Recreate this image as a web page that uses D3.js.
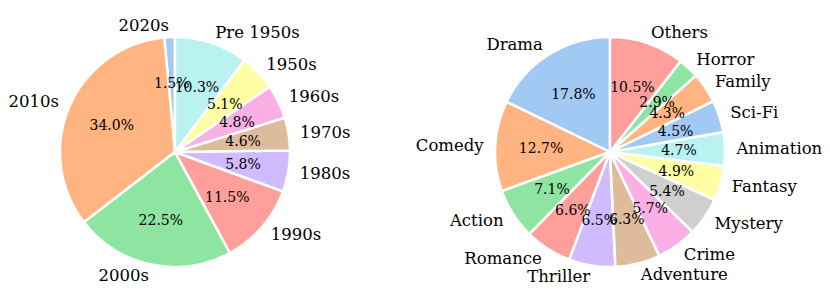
<!DOCTYPE html>
<meta charset="utf-8">
<head>
    <title>pies</title>
    <script src="https://d3js.org/d3.v7.min.js"></script>
    <style>
        body { margin: 0; background: #ffffff; }
        text { font-family: "DejaVu Serif", serif; fill: #000; }
    </style>
</head>
<body>
<svg id="chart" width="830" height="306"></svg>
<script>
// decades (left pie), order = matplotlib order, counterclockwise from top
var decades = ["2020s", "2010s", "2000s", "1990s", "1980s", "1970s", "1960s", "1950s", "Pre 1950s"]
var decadeShare = [1.5, 34.0, 22.5, 11.5, 5.8, 4.6, 4.8, 5.1, 10.3]
var decadeColors = ["#a1c9f4", "#ffb482", "#8de5a1", "#ff9f9b", "#d0bbff", "#debb9b", "#fab0e4", "#fffea3", "#b9f2f0"]

// genres (right pie)
var genres = ["Drama", "Comedy", "Action", "Romance", "Thriller", "Adventure", "Crime",
              "Mystery", "Fantasy", "Animation", "Sci-Fi", "Family", "Horror", "Others"]
var genreShare = [17.8, 12.7, 7.1, 6.6, 6.5, 6.3, 5.7, 5.4, 4.9, 4.7, 4.5, 4.3, 2.9, 10.5]
var genreColors = ["#a1c9f4", "#ffb482", "#8de5a1", "#ff9f9b", "#d0bbff", "#debb9b", "#fab0e4",
                   "#cfcfcf", "#fffea3", "#b9f2f0", "#a1c9f4", "#ffb482", "#8de5a1", "#ff9f9b"]

var svg = d3.select("#chart")
var radius = 115

function drawPie(cx, cy, labels, values, colors) {
    var rows = labels.map(function(l, i) { return {label: l, value: values[i], color: colors[i]} })

    // counterclockwise starting at 12 o'clock, like matplotlib startangle=90
    var pie = d3.pie()
        .sort(null)
        .value(function(d) { return d.value })
        .startAngle(0)
        .endAngle(-2 * Math.PI)

    var arc = d3.arc().innerRadius(0).outerRadius(radius)

    var g = svg.append("g").attr("transform", "translate(" + cx + "," + cy + ")")
    var arcs = pie(rows)

    g.selectAll("path")
        .data(arcs)
        .enter()
        .append("path")
        .attr("d", arc)
        .attr("fill", function(d) { return d.data.color })
        .attr("stroke", "white")
        .attr("stroke-width", 2.5)
        .attr("stroke-linejoin", "miter")

    function mid(d) { return (d.startAngle + d.endAngle) / 2 }

    // outer labels at 1.1 radius
    g.selectAll("text.lab")
        .data(arcs)
        .enter()
        .append("text")
        .attr("class", "lab")
        .attr("x", function(d) { return Math.sin(mid(d)) * radius * 1.1 })
        .attr("y", function(d) { return -Math.cos(mid(d)) * radius * 1.1 })
        .attr("text-anchor", function(d) { return Math.sin(mid(d)) > 0 ? "start" : "end" })
        .attr("dominant-baseline", "central")
        .style("font-size", "16.5px")
        .text(function(d) { return d.data.label })

    // percentages at 0.6 radius
    g.selectAll("text.pct")
        .data(arcs)
        .enter()
        .append("text")
        .attr("class", "pct")
        .attr("x", function(d) { return Math.sin(mid(d)) * radius * 0.6 })
        .attr("y", function(d) { return -Math.cos(mid(d)) * radius * 0.6 })
        .attr("text-anchor", "middle")
        .attr("dominant-baseline", "central")
        .style("font-size", "14px")
        .text(function(d) { return d.data.value.toFixed(1) + "%" })
}

drawPie(175, 152, decades, decadeShare, decadeColors)
drawPie(610, 152, genres, genreShare, genreColors)
</script>
</body>
